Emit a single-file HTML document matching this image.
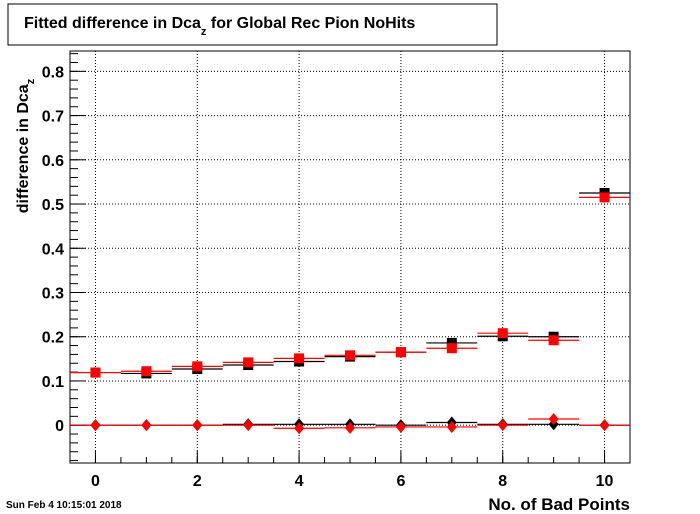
<!DOCTYPE html>
<html><head><meta charset="utf-8"><style>
body{margin:0;background:#fff;}
svg{display:block;font-family:"Liberation Sans",Arial,sans-serif;}
</style></head><body>
<svg id="c" width="700" height="514" viewBox="0 0 700 514">
<rect x="8" y="4" width="489" height="41" fill="#fff" stroke="#000" stroke-width="1"/>
<text x="24" y="28" font-size="16" font-weight="bold">Fitted difference in Dca<tspan font-size="11" dy="7">z</tspan><tspan dy="-7"> for Global Rec Pion NoHits</tspan></text>
<g id="grid"></g>
<rect x="70" y="51" width="560" height="412" fill="none" stroke="#000"/>
<g id="axes"></g>
<g id="marks"></g>
<text transform="translate(28,146) rotate(-90)" text-anchor="middle" font-size="16" font-weight="bold">difference in Dca<tspan font-size="11" dy="6">z</tspan></text>
<text x="630" y="510" text-anchor="end" font-size="17" font-weight="bold">No. of Bad Points</text>
<text x="6" y="508" font-size="10" font-weight="bold">Sun Feb  4 10:15:01 2018</text>
</svg>
<script>
const categories=[0,1,2,3,4,5,6,7,8,9,10];
const blackSquares=[0.119,0.117,0.127,0.136,0.144,0.155,0.165,0.186,0.201,0.200,0.525];
const redSquares=[0.119,0.122,0.133,0.142,0.151,0.158,0.165,0.174,0.208,0.192,0.515];
const blackDiamonds=[0.0,0.0,0.0,0.002,0.002,0.002,0.0,0.006,0.002,0.002,0.0];
const redDiamonds=[0.0,0.0,0.0,0.0,-0.007,-0.006,-0.004,-0.004,0.0,0.014,0.0];
const yTicks=[0,0.1,0.2,0.3,0.4,0.5,0.6,0.7,0.8];
const yTickLabels=["0","0.1","0.2","0.3","0.4","0.5","0.6","0.7","0.8"];
const xTicks=[0,2,4,6,8,10];
const xTickLabels=["0","2","4","6","8","10"];
const X0=70,X1=630,Y0=463,Y1=51,xmin=-0.5,xmax=10.5,ymin=-0.0855,ymax=0.846;
const xs=v=>X0+(v-xmin)/(xmax-xmin)*(X1-X0);
const ys=v=>Y0-(v-ymin)/(ymax-ymin)*(Y0-Y1);
const NS="http://www.w3.org/2000/svg";
function mk(p,t,a){const e=document.createElementNS(NS,t);for(const k in a)e.setAttribute(k,a[k]);document.getElementById(p).appendChild(e);return e;}
yTicks.forEach((v,i)=>{
 const g=mk('grid','line',{x1:X0,x2:X1,y1:ys(v),y2:ys(v),stroke:'#000','stroke-dasharray':'1 2','stroke-width':1});
 
 
 const t=mk('axes','line',{x1:X0,x2:X0+16,y1:ys(v),y2:ys(v),stroke:'#000'});
 
 
 const l=mk('axes','text',{x:X0-6,y:ys(v)+6,'text-anchor':'end','font-size':16,'font-weight':'bold'});
 l.textContent=yTickLabels[i];
 
 
});
for(let v=-0.08;v<0.845;v+=0.02){
 const m=mk('axes','line',{x1:X0,x2:X0+8,y1:ys(v),y2:ys(v),stroke:'#000'});
 
 
}
xTicks.forEach((v,i)=>{
 const g=mk('grid','line',{x1:xs(v),x2:xs(v),y1:Y0,y2:Y1,stroke:'#000','stroke-dasharray':'1 2','stroke-width':1});
 
 
 const t=mk('axes','line',{x1:xs(v),x2:xs(v),y1:Y0,y2:Y0-12,stroke:'#000'});
 
 
 const l=mk('axes','text',{x:xs(v),y:Y0+23,'text-anchor':'middle','font-size':16,'font-weight':'bold'});
 l.textContent=xTickLabels[i];
 
 
});
for(let v=0;v<=10.5;v+=0.5){
 const m=mk('axes','line',{x1:xs(v),x2:xs(v),y1:Y0,y2:Y0-6,stroke:'#000'});
 
 
}
function series(vals,color,shape,name){
 vals.forEach((v,i)=>{
  const c=categories[i],y=ys(v);
  const e=mk('marks','line',{x1:xs(c-0.5),x2:xs(c+0.5),y1:y,y2:y,stroke:color,'stroke-width':1.2});
  
  
  let m;
  if(shape==='square') m=mk('marks','rect',{x:xs(c)-5,y:y-5,width:10,height:10,fill:color});
  else m=mk('marks','polygon',{points:`${xs(c)},${y-6} ${xs(c)+5},${y} ${xs(c)},${y+6} ${xs(c)-5},${y}`,fill:color});
  
  
 });
}
series(blackSquares,'#000','square','black-square');
series(blackDiamonds,'#000','diamond','black-diamond');
series(redSquares,'#f00','square','red-square');
series(redDiamonds,'#f00','diamond','red-diamond');
</script>
</body></html>
